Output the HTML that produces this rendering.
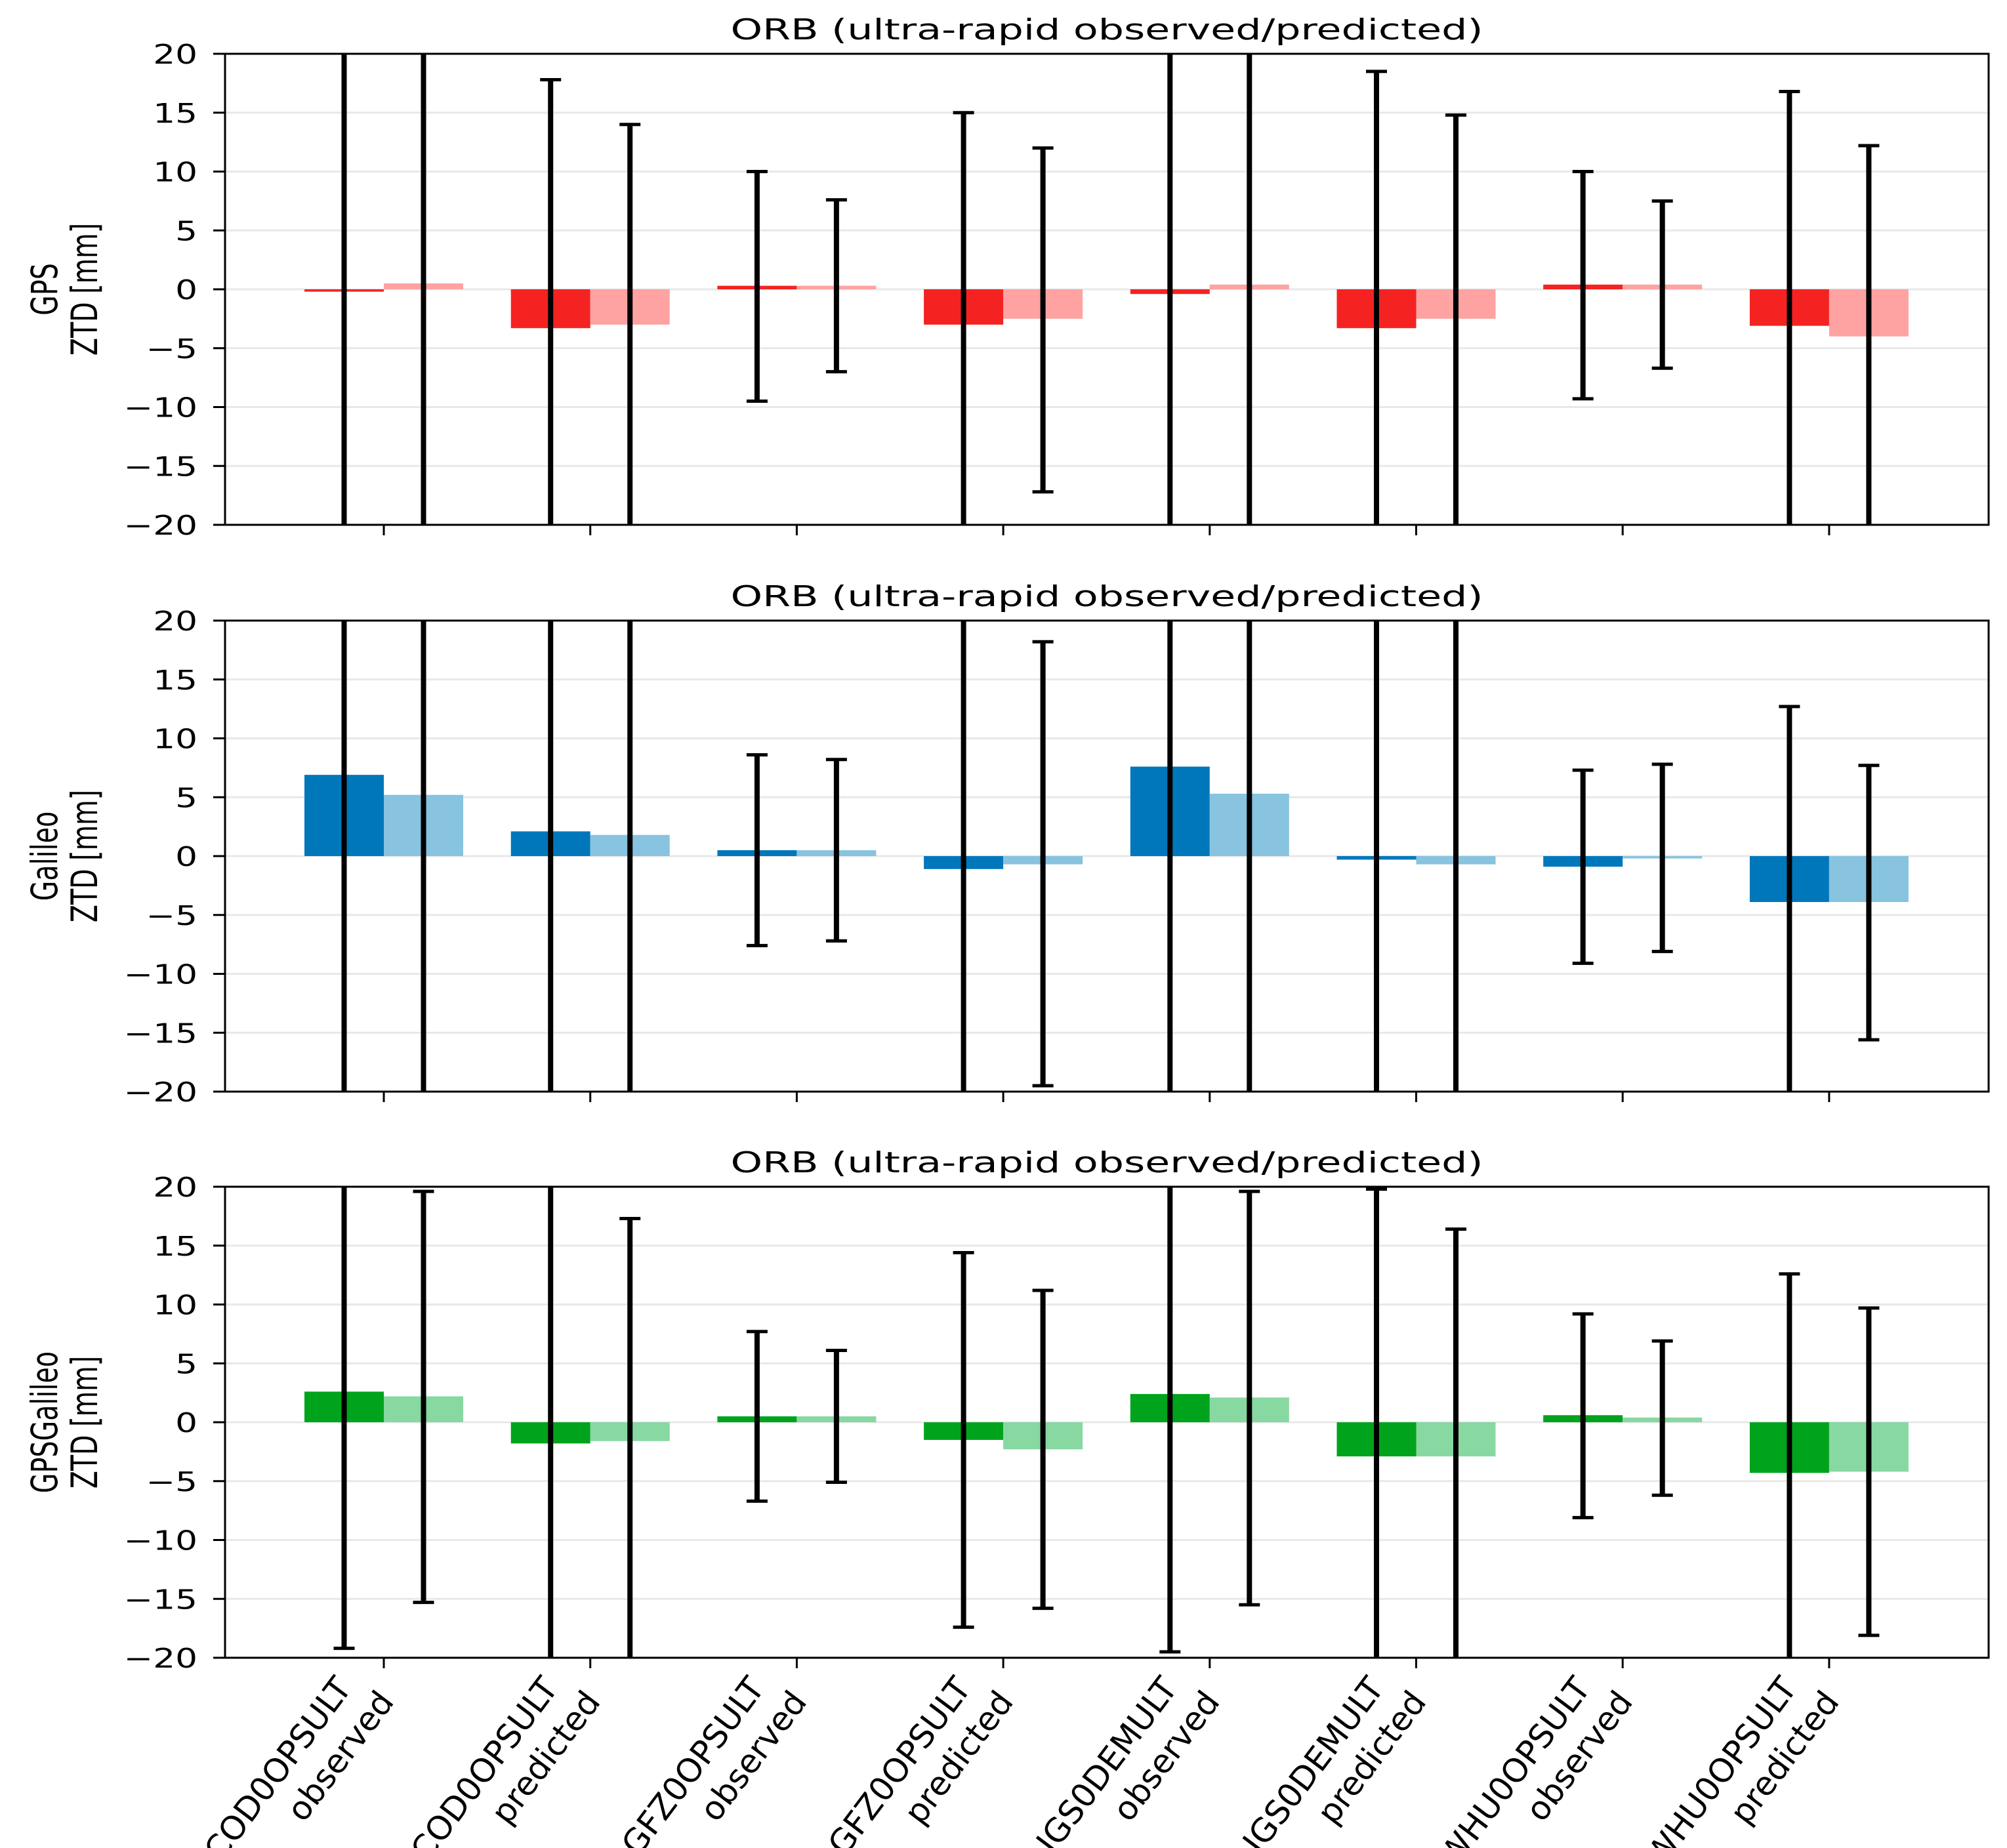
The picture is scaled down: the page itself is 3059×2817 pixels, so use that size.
<!DOCTYPE html>
<html><head><meta charset="utf-8"><style>
html,body{margin:0;padding:0;background:#fff;}
svg{display:block;}
text{font-family:"DejaVu Sans","Liberation Sans",sans-serif;fill:#000;}
.cond{font-family:"DejaVu Sans Condensed","DejaVu Sans","Liberation Sans",sans-serif;font-stretch:condensed;}
</style></head><body>
<svg id="chart" width="3059" height="2817" viewBox="0 0 3059 2817" xmlns="http://www.w3.org/2000/svg"></svg>
<script>
const categories = ["COD0OPSULT\nobserved","COD0OPSULT\npredicted","GFZ0OPSULT\nobserved","GFZ0OPSULT\npredicted","IGS0DEMULT\nobserved","IGS0DEMULT\npredicted","WHU0OPSULT\nobserved","WHU0OPSULT\npredicted"];
const yTicks = [-20,-15,-10,-5,0,5,10,15,20];
const panelNames = ["GPS","Galileo","GPSGalileo"];
// GPS
const gpsDark = [-0.2,-3.3,0.3,-3.0,-0.4,-3.3,0.4,-3.1];
const gpsLight = [0.5,-3.0,0.3,-2.5,0.4,-2.5,0.4,-4.0];
const gpsDarkHi = [30,17.8,10,15,30,18.5,10,16.8];
const gpsDarkLo = [-30,-30,-9.5,-30,-30,-30,-9.3,-30];
const gpsLightHi = [30,14,7.6,12,30,14.8,7.5,12.2];
const gpsLightLo = [-30,-30,-7,-17.2,-30,-30,-6.7,-30];
// Galileo
const galDark = [6.9,2.1,0.5,-1.1,7.6,-0.3,-0.9,-3.9];
const galLight = [5.2,1.8,0.5,-0.7,5.3,-0.7,-0.2,-3.9];
const galDarkHi = [30,30,8.6,30,30,30,7.3,12.7];
const galDarkLo = [-30,-30,-7.6,-30,-30,-30,-9.1,-30];
const galLightHi = [30,30,8.2,18.2,30,30,7.8,7.7];
const galLightLo = [-30,-30,-7.2,-19.5,-30,-30,-8.1,-15.6];
// GPS+Galileo
const combDark = [2.6,-1.8,0.5,-1.5,2.4,-2.9,0.6,-4.3];
const combLight = [2.2,-1.6,0.5,-2.3,2.1,-2.9,0.4,-4.2];
const combDarkHi = [30,30,7.7,14.4,30,19.8,9.2,12.6];
const combDarkLo = [-19.2,-30,-6.7,-17.4,-19.5,-30,-8.1,-30];
const combLightHi = [19.6,17.3,6.1,11.2,19.6,16.4,6.9,9.7];
const combLightLo = [-15.3,-30,-5.1,-15.8,-15.5,-30,-6.2,-18.1];

const NS="http://www.w3.org/2000/svg";
const svg=document.getElementById('chart');
function el(tag,attrs,parent){const e=document.createElementNS(NS,tag);for(const k in attrs)e.setAttribute(k,attrs[k]);(parent||svg).appendChild(e);return e;}
const L=343,R=3031,PH=718,tops=[82,946,1809];
const c0=585,step=314.7,bw=121;
const xc=i=>c0+i*step;
function yS(top){return v=>{const c=Math.max(-20,Math.min(20,v));return top+(20-c)/40*PH;};}
const panels=[
 {dark:gpsDark,light:gpsLight,dh:gpsDarkHi,dl:gpsDarkLo,lh:gpsLightHi,ll:gpsLightLo,cd:"#f52222",cl:"#ffa2a2"},
 {dark:galDark,light:galLight,dh:galDarkHi,dl:galDarkLo,lh:galLightHi,ll:galLightLo,cd:"#0077bb",cl:"#88c3df"},
 {dark:combDark,light:combLight,dh:combDarkHi,dl:combDarkLo,lh:combLightHi,ll:combLightLo,cd:"#00a31c",cl:"#88d8a2"}];
panels.forEach((p,pi)=>{
 const top=tops[pi],y=yS(top);
 const g=el('g',{});
 
 
 yTicks.forEach(t=>{
  if(t!==20&&t!==-20){const gl=el('line',{x1:L,x2:R,y1:y(t),y2:y(t),stroke:'#e8e8e8','stroke-width':3},g);
  }
  const tk=el('line',{x1:L-18,x2:L,y1:y(t),y2:y(t),stroke:'#000','stroke-width':3},g);
  
  const tl=el('text',{transform:`translate(301,${y(t)+15}) scale(1.3,1)`,x:0,y:0,'text-anchor':'end','font-size':41},g);
  tl.textContent=(t<0?'\u2212'+(-t):t);
  
 });
 categories.forEach((c,i)=>{
  [[p.dark,p.cd,-1,p.dh,p.dl],[p.light,p.cl,0,p.lh,p.ll]].forEach(([arr,col,off,hi,lo],s)=>{
   const x0=xc(i)+off*bw,v=arr[i];
   const b=el('rect',{x:x0,y:Math.min(y(0),y(v)),width:bw,height:Math.max(3,Math.abs(y(v)-y(0))),fill:col},g);
   
   const ex=x0+bw/2;
   const eb=el('line',{x1:ex,x2:ex,y1:y(hi[i]),y2:y(lo[i]),stroke:'#000','stroke-width':8},g);
   
   [hi[i],lo[i]].forEach(v2=>{if(Math.abs(v2)<20){const cp=el('line',{x1:ex-16,x2:ex+16,y1:y(v2),y2:y(v2),stroke:'#000','stroke-width':5},g);
    }});
  });
  const xt=el('line',{x1:xc(i),x2:xc(i),y1:top+PH,y2:top+PH+16,stroke:'#000','stroke-width':3},g);
  
 });
 const fr=el('rect',{x:L,y:top,width:R-L,height:PH,fill:'none',stroke:'#000','stroke-width':3},g);
 
 const ti=el('text',{class:'cond',x:(L+R)/2,y:top-22,'text-anchor':'middle','font-size':44,'textLength':1147,'lengthAdjust':'spacingAndGlyphs'},g);
 ti.textContent='ORB (ultra-rapid observed/predicted)';
 
 const yl=el('text',{class:'cond',transform:`translate(87,${top+PH/2}) scale(1.25,1) rotate(-90)`,'text-anchor':'middle','font-size':44},g);
 
 const t1=el('tspan',{x:0,dy:0},yl);t1.textContent=panelNames[pi];
 const t2=el('tspan',{x:0,dy:49},yl);t2.textContent='ZTD [mm]';
});
categories.forEach((c,i)=>{
 const parts=c.split('\n');
 const g=el('g',{transform:`translate(${(xc(i)-76).toFixed(1)},2552) rotate(-53)`});
 
 const lx=[0,22],ly=[36,100];
 parts.forEach((t,k)=>{const tx=el('text',{x:lx[k],y:ly[k],'text-anchor':'end','font-size':50},g);tx.textContent=t;
  });
});
</script>
</body></html>
